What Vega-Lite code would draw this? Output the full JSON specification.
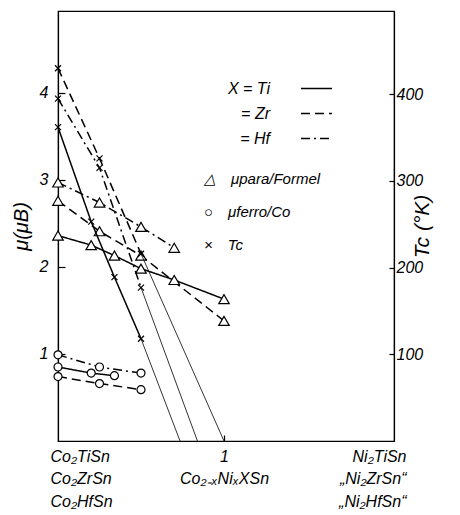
{
  "$schema": "https://vega.github.io/schema/vega-lite/v6.json",
  "width": 336,
  "height": 430,
  "autosize": {"type": "none"},
  "padding": {"left": 58, "top": 11, "right": 66, "bottom": 74},
  "background": "white",
  "config": {
    "view": {"stroke": "black", "strokeWidth": 1.2},
    "font": "Liberation Sans",
    "axis": {
      "grid": false,
      "domainColor": "black",
      "domainWidth": 1.2,
      "tickColor": "black",
      "tickWidth": 1.2,
      "labelColor": "black",
      "titleColor": "black",
      "labelFont": "Liberation Sans",
      "labelFontStyle": "italic",
      "labelFontSize": 16,
      "titleFont": "Liberation Sans",
      "titleFontStyle": "italic",
      "titleFontWeight": "normal",
      "titleFontSize": 20
    },
    "legend": {
      "labelFont": "Liberation Sans",
      "labelFontStyle": "italic",
      "labelFontSize": 16,
      "labelColor": "black",
      "padding": 0
    }
  },
  "datasets": {
    "mu": [
      {"series": "Ti", "qty": "μpara/Formel", "x": 0, "v": 2.36},
      {"series": "Ti", "qty": "μpara/Formel", "x": 0.2, "v": 2.25},
      {"series": "Ti", "qty": "μpara/Formel", "x": 0.34, "v": 2.13},
      {"series": "Ti", "qty": "μpara/Formel", "x": 0.5, "v": 1.98},
      {"series": "Ti", "qty": "μpara/Formel", "x": 0.7, "v": 1.85},
      {"series": "Ti", "qty": "μpara/Formel", "x": 1.0, "v": 1.63},
      {"series": "Zr", "qty": "μpara/Formel", "x": 0, "v": 2.76},
      {"series": "Zr", "qty": "μpara/Formel", "x": 0.25, "v": 2.41},
      {"series": "Zr", "qty": "μpara/Formel", "x": 0.5, "v": 2.13},
      {"series": "Zr", "qty": "μpara/Formel", "x": 1.0, "v": 1.38},
      {"series": "Hf", "qty": "μpara/Formel", "x": 0, "v": 2.97},
      {"series": "Hf", "qty": "μpara/Formel", "x": 0.25, "v": 2.74},
      {"series": "Hf", "qty": "μpara/Formel", "x": 0.5, "v": 2.46},
      {"series": "Hf", "qty": "μpara/Formel", "x": 0.7, "v": 2.22},
      {"series": "Hf", "qty": "μferro/Co", "x": 0, "v": 0.99},
      {"series": "Hf", "qty": "μferro/Co", "x": 0.25, "v": 0.85},
      {"series": "Hf", "qty": "μferro/Co", "x": 0.5, "v": 0.78},
      {"series": "Ti", "qty": "μferro/Co", "x": 0, "v": 0.85},
      {"series": "Ti", "qty": "μferro/Co", "x": 0.2, "v": 0.78},
      {"series": "Ti", "qty": "μferro/Co", "x": 0.34, "v": 0.75},
      {"series": "Zr", "qty": "μferro/Co", "x": 0, "v": 0.74},
      {"series": "Zr", "qty": "μferro/Co", "x": 0.25, "v": 0.66},
      {"series": "Zr", "qty": "μferro/Co", "x": 0.5, "v": 0.59}
    ],
    "tc": [
      {"series": "Ti", "qty": "Tc", "x": 0, "tc": 362},
      {"series": "Ti", "qty": "Tc", "x": 0.2, "tc": 253},
      {"series": "Ti", "qty": "Tc", "x": 0.34, "tc": 189},
      {"series": "Ti", "qty": "Tc", "x": 0.5, "tc": 118},
      {"series": "Zr", "qty": "Tc", "x": 0, "tc": 430},
      {"series": "Zr", "qty": "Tc", "x": 0.25, "tc": 326},
      {"series": "Zr", "qty": "Tc", "x": 0.5, "tc": 216},
      {"series": "Hf", "qty": "Tc", "x": 0, "tc": 395},
      {"series": "Hf", "qty": "Tc", "x": 0.25, "tc": 315},
      {"series": "Hf", "qty": "Tc", "x": 0.5, "tc": 177}
    ],
    "ex": [
      {"series": "Ti", "x": 0.5, "tc": 118},
      {"series": "Ti", "x": 0.735, "tc": 0},
      {"series": "Zr", "x": 0.5, "tc": 216},
      {"series": "Zr", "x": 1.0, "tc": 0},
      {"series": "Hf", "x": 0.5, "tc": 177},
      {"series": "Hf", "x": 0.84, "tc": 0}
    ]
  },
  "encoding": {
    "x": {
      "field": "x",
      "type": "quantitative",
      "scale": {"domain": [0, 2.024], "nice": false, "zero": false},
      "axis": {
        "values": [0, 1, 2],
        "title": null,
        "tickSize": -6,
        "tickColor": {"condition": {"test": "datum.value == 1", "value": "black"}, "value": "transparent"},
        "labelExpr": "datum.value == 0 ? ['Co₂TiSn', 'Co₂ZrSn', 'Co₂HfSn'] : datum.value == 1 ? ['1', 'Co₂₋ₓNiₓXSn'] : ['Ni₂TiSn', '„Ni₂ZrSn“', '„Ni₂HfSn“']",
        "labelAlign": {"condition": [{"test": "datum.value == 0", "value": "left"}, {"test": "datum.value == 2", "value": "right"}], "value": "center"},
        "labelOffset": {"condition": [{"test": "datum.value == 0", "value": -8}, {"test": "datum.value == 2", "value": 16}], "value": 0},
        "labelLineHeight": 22.5,
        "labelPadding": 13,
        "labelOverlap": false,
        "labelFlush": false,
        "labelBound": false
      }
    }
  },
  "layer": [
    {
      "data": {"name": "mu"},
      "encoding": {
        "y": {
          "field": "v",
          "type": "quantitative",
          "scale": {"domain": [0, 4.94], "nice": false},
          "axis": {
            "orient": "left",
            "values": [1, 2, 3, 4],
            "title": "μ(μB)",
            "tickSize": -7,
            "labelPadding": 17,
            "titlePadding": 8
          }
        }
      },
      "layer": [
        {
          "mark": {"type": "line", "color": "black", "strokeWidth": 1.5},
          "encoding": {
            "detail": {"field": "qty"},
            "strokeDash": {
              "field": "series",
              "type": "nominal",
              "scale": {"domain": ["Ti", "Zr", "Hf"], "range": [[1, 0], [9, 5], [9, 4, 2, 4]]},
              "legend": {
                "title": null,
                "orient": "none",
                "legendX": 242,
                "legendY": 61,
                "symbolType": "stroke",
                "symbolSize": 961,
                "symbolStrokeWidth": 1.5,
                "symbolStrokeColor": "black",
                "labelAlign": "right",
                "labelOffset": -63,
                "rowPadding": -7,
                "labelExpr": "datum.label == 'Ti' ? 'X = Ti' : '= ' + datum.label"
              }
            }
          }
        },
        {
          "transform": [{"filter": "datum.qty == 'μpara/Formel'"}],
          "mark": {"type": "point", "filled": false, "fill": "white", "stroke": "black", "strokeWidth": 1.2, "opacity": 1, "size": 110},
          "encoding": {
            "shape": {
              "field": "qty",
              "type": "nominal",
              "scale": {"domain": ["μpara/Formel", "μferro/Co", "Tc"], "range": ["triangle-up", "circle", "M-1,-1L1,1M-1,1L1,-1"]},
              "legend": {
                "title": null,
                "orient": "none",
                "legendX": 120,
                "legendY": 160,
                "symbolSize": 50,
                "symbolOpacity": 0,
                "labelOffset": 11,
                "labelFontSize": 15,
                "rowPadding": 17,
                "labelExpr": "datum.label == 'Tc' ? '×\u2003Tc' : datum.label == 'μferro/Co' ? '○\u2003μferro/Co' : '△\u2003μpara/Formel'"
              }
            }
          }
        },
        {
          "transform": [{"filter": "datum.qty == 'μferro/Co'"}],
          "mark": {"type": "point", "filled": false, "fill": "white", "stroke": "black", "strokeWidth": 1.2, "opacity": 1, "size": 64},
          "encoding": {
            "shape": {"field": "qty", "type": "nominal"}
          }
        }
      ]
    },
    {
      "encoding": {
        "y": {
          "field": "tc",
          "type": "quantitative",
          "scale": {"domain": [0, 496], "nice": false},
          "axis": {
            "orient": "right",
            "values": [100, 200, 300, 400],
            "title": "Tc (°K)",
            "titleAngle": 270,
            "titleFontSize": 21,
            "tickSize": -5,
            "labelPadding": 7,
            "titlePadding": 10
          }
        }
      },
      "layer": [
        {
          "data": {"name": "ex"},
          "mark": {"type": "line", "color": "black", "strokeWidth": 0.8},
          "encoding": {"detail": {"field": "series"}}
        },
        {
          "data": {"name": "tc"},
          "mark": {"type": "line", "color": "black", "strokeWidth": 1.5},
          "encoding": {
            "strokeDash": {"field": "series", "type": "nominal"}
          }
        },
        {
          "data": {"name": "tc"},
          "mark": {"type": "point", "filled": false, "fill": "white", "stroke": "black", "strokeWidth": 1.2, "opacity": 1, "size": 36},
          "encoding": {
            "shape": {"field": "qty", "type": "nominal"}
          }
        }
      ]
    }
  ],
  "resolve": {"scale": {"y": "independent"}}
}
